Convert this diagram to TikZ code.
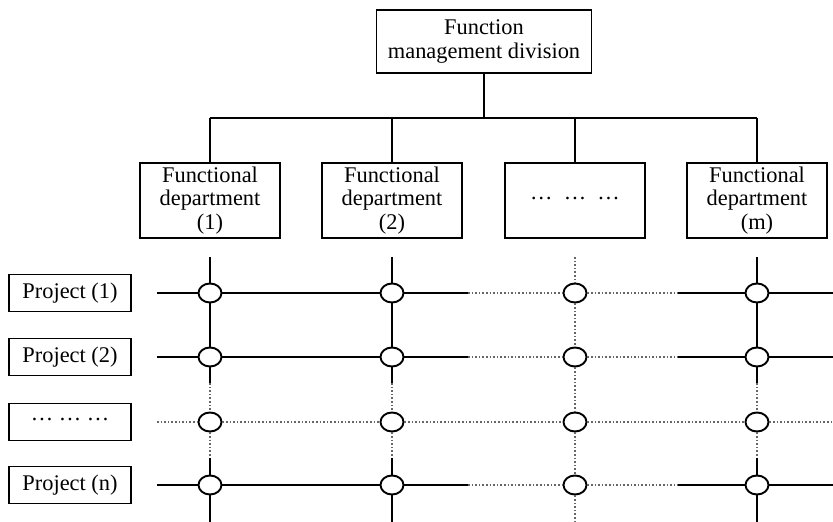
\documentclass[tikz,border=0pt]{standalone}
\usepackage{fontspec}
\setmainfont{Liberation Serif}
\usetikzlibrary{positioning, calc, shapes.geometric}
\newcommand{\middots}{\raisebox{0.45ex}{…}}

\begin{document}
\begin{tikzpicture}[
    x=0.5pt, y=-0.5pt,
    line width=0.95pt,
    box/.style={draw, line width=0.95pt, align=center, inner sep=1pt, font=\fontsize{11.2}{11.8}\selectfont},
    dept/.style={box, minimum width=70pt, minimum height=37.5pt},
    proj/.style={box, minimum width=61pt, minimum height=18.5pt},
    joint/.style={draw, ellipse, fill=white, minimum width=11.5pt, minimum height=9.5pt, inner sep=0pt},
    gap/.style={densely dotted, black!60, line width=0.8pt},
]
    \useasboundingbox (0,0) rectangle (833,522);
    % management and departments
    \node[box, minimum width=107.5pt, minimum height=31.5pt] (fmd) at (484,41.5) {Function\\management division};
    \node[dept] (d1) at (210,200.5) {Functional\\department\\(1)};
    \node[dept] (d2) at (392,200.5) {Functional\\department\\(2)};
    \node[dept] (d3) at (575,200.5) {\middots\enspace\middots\enspace\middots};
    \node[dept] (d4) at (757,200.5) {Functional\\department\\(m)};
    \coordinate (bus) at (484,118);
    \draw (fmd) -- (bus);
    \draw (d1.north |- bus) -- (d4.north |- bus);
    \foreach \d in {d1,d2,d3,d4}
        \draw (\d.north) -- (\d.north |- bus);
    % projects
    \node[proj] (p1) at (70,293) {Project (1)};
    \node[proj] (p2) at (70,357) {Project (2)};
    \node[proj] (p3) at (70,422) {\middots\ \middots\ \middots};
    \node[proj] (p4) at (70,485) {Project (n)};
    % matrix joints
    \foreach \x [count=\j] in {210,392,575,757} {
        \foreach \y [count=\i] in {293,357,422,485}
            \node[joint] (c\i\j) at (\x,\y) {};
        \coordinate (t\j) at (\x,257);
        \coordinate (s\j) at (\x,383);
        \coordinate (f\j) at (\x,458);
        \coordinate (u\j) at (\x,522);
    }
    \foreach \y [count=\i] in {293,357,422,485} {
        \coordinate (r\i) at (157,\y);
        \coordinate (a\i) at (468,\y);
        \coordinate (b\i) at (678,\y);
        \coordinate (e\i) at (833,\y);
    }
    % rows
    \foreach \i in {1,2,4} {
        \draw (r\i) -- (c\i1) -- (c\i2) -- (a\i);
        \draw[gap] (a\i) -- (c\i3) -- (b\i);
        \draw (b\i) -- (c\i4) -- (e\i);
    }
    \draw[gap] (r3) -- (c31) -- (c32) -- (c33) -- (c34) -- (e3);
    % columns
    \foreach \j in {1,2,4} {
        \draw (t\j) -- (c1\j) -- (c2\j) -- (s\j);
        \draw[gap] (s\j) -- (c3\j) -- (f\j);
        \draw (f\j) -- (c4\j) -- (u\j);
    }
    \draw[gap] (t3) -- (c13) -- (c23) -- (c33) -- (c43) -- (u3);
\end{tikzpicture}
\end{document}
